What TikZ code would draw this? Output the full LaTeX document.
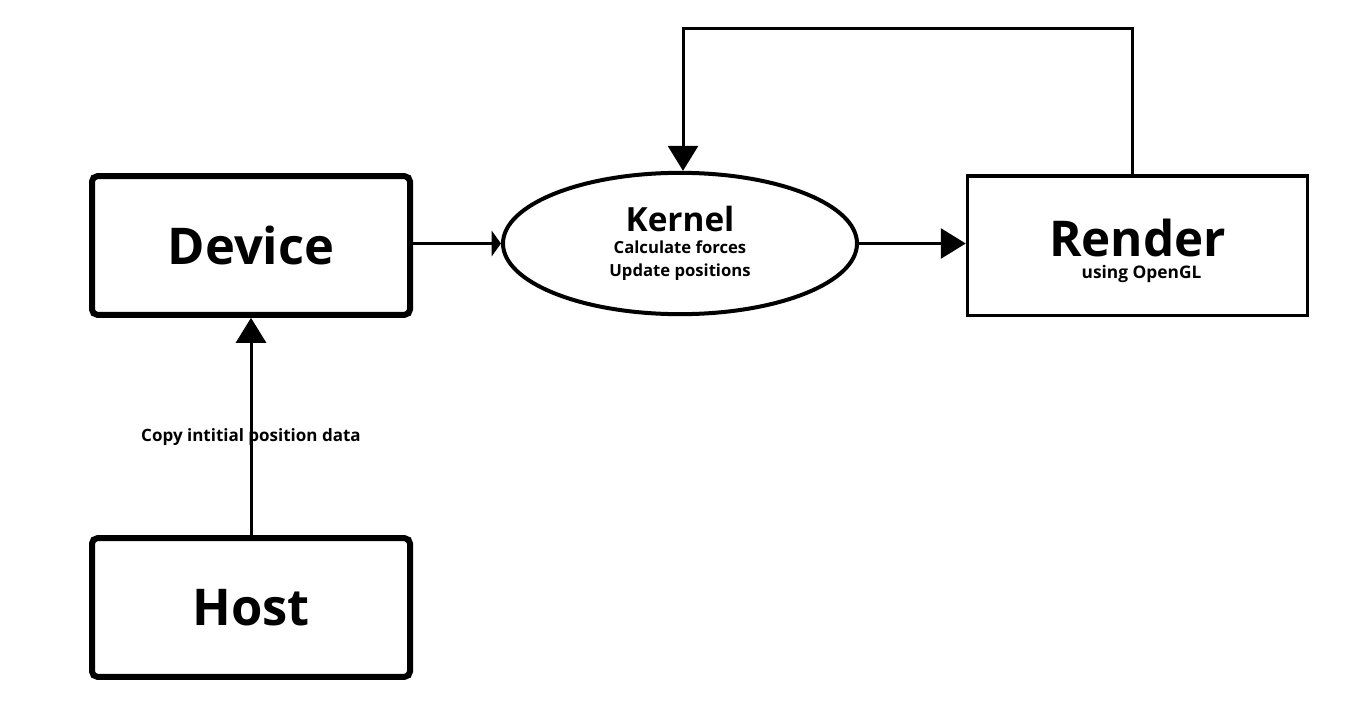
\documentclass[tikz,border=0pt]{standalone}
\usepackage{fontspec}
\setmainfont{Open Sans}
\usetikzlibrary{arrows.meta, positioning, shapes.geometric}

\begin{document}
\begin{tikzpicture}[
    x=0.75pt, y=-0.75pt,
    box/.style={draw, rectangle, rounded corners=4pt, line width=4.5pt, minimum width=238.5pt, minimum height=104pt, align=center, font=\bfseries\fontsize{38}{44}\selectfont},
    renderbox/.style={draw, rectangle, line width=2.6pt, minimum width=255pt, minimum height=104.6pt, align=center, font=\bfseries},
    kernelnode/.style={draw, ellipse, line width=3pt, minimum width=265.5pt, minimum height=106pt, align=center, font=\bfseries},
    small/.style={font=\bfseries\fontsize{12.75}{15}\selectfont},
    arrow/.style={-{Triangle[length=18.75pt, width=22.5pt]}, line width=2.25pt},
    thinarrow/.style={-{Triangle[length=7pt, width=19pt]}, line width=2.25pt}
]
\useasboundingbox (0,0) rectangle (1364,714);

% Boxes
\node[box] (device) at (251,245.5) {Device};
\node[box] (host) at (251,607.5) {Host};
\node[kernelnode] (kernel) at (680,243.5) {\fontsize{25}{26}\selectfont Kernel\\[4.5pt]
  \fontsize{12.5}{17}\selectfont Calculate forces\\[5pt]
  \fontsize{12.5}{17}\selectfont Update positions};
\node[renderbox] (render) at (1137.5,245.5) {\fontsize{37}{40}\selectfont\rule{0pt}{36pt}Render\\[4pt]
  \fontsize{13}{15}\selectfont\hspace*{6pt}using OpenGL};
\coordinate (loop) at (908,28);

% Arrows
\draw[arrow] (host) -- node[small, pos=0.45] {Copy intitial position data} (device);
\draw[thinarrow] (device.east |- kernel.west) -- (kernel.west);
\draw[arrow] (kernel.east) -- (kernel.east -| render.west);
\draw[arrow] ([xshift=-3.4pt]render.north) |- (loop) -| ([xshift=2.25pt]kernel.north);

\end{tikzpicture}
\end{document}
